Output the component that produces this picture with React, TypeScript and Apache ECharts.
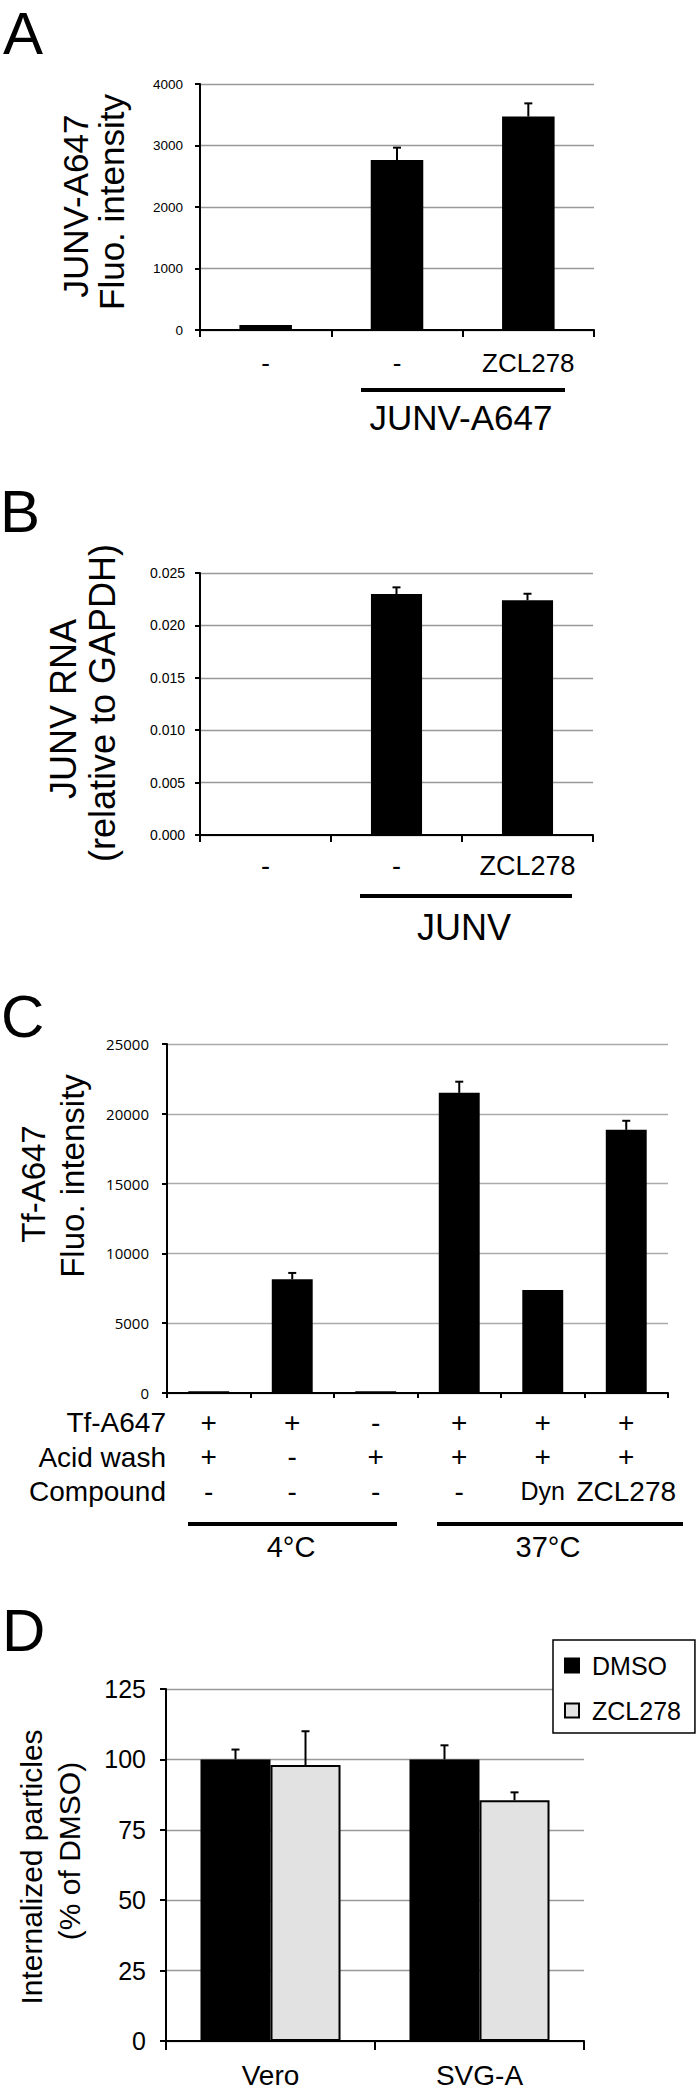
import React, { useEffect, useRef } from 'react';
import * as echarts from 'echarts';

const FONT = '"Liberation Sans", Arial, Helvetica, sans-serif';
const FONT_C = '"Open Sans", "Liberation Sans", sans-serif';

// ---- Panel A: JUNV-A647 binding ----
const aCategories = ['-', '-', 'ZCL278'];
const aValues = [80, 2765, 3470];
const aErrors = [0, 200, 215];
const aMax = 4000;
const aInterval = 1000;

// ---- Panel B: JUNV RNA ----
const bCategories = ['-', '-', 'ZCL278'];
const bValues = [0, 0.023, 0.0224];
const bErrors = [0, 0.00063, 0.00062];
const bMax = 0.025;
const bInterval = 0.005;

// ---- Panel C: Tf-A647 uptake ----
const cTf = ['+', '+', '-', '+', '+', '+'];
const cAcid = ['+', '-', '+', '+', '+', '+'];
const cCompound = ['-', '-', '-', '-', 'Dyn', 'ZCL278'];
const cRowNames = ['Tf-A647', 'Acid wash', 'Compound'];
const cValues = [120, 8150, 120, 21500, 7380, 18850];
const cErrors = [0, 450, 0, 800, 0, 650];
const cMax = 25000;
const cInterval = 5000;
const cGroups = ['4°C', '37°C'];

// ---- Panel D: internalized particles ----
const dCategories = ['Vero', 'SVG-A'];
const dSeriesNames = ['DMSO', 'ZCL278'];
const dDmso = [100, 100];
const dDmsoErr = [3.5, 5];
const dZcl = [98, 85.5];
const dZclErr = [12, 2.8];
const dMax = 125;
const dInterval = 25;

const D_GAP = 0.33; // barCategoryGap fraction in panel D

function errorSeries(gridIdx: number, values: number[], errors: number[], offsetFrac = 0) {
  return {
    type: 'custom',
    xAxisIndex: gridIdx,
    yAxisIndex: gridIdx,
    z: 5,
    silent: true,
    data: values.map((v, i) => [i, v, errors[i]]),
    encode: { x: 0, y: 1 },
    renderItem: (params: any, api: any) => {
      const i = api.value(0);
      const v = api.value(1);
      const e = api.value(2);
      if (!e) return { type: 'group', children: [] };
      const p0 = api.coord([i, v]);
      const p1 = api.coord([i, v + e]);
      const cx = p0[0] + offsetFrac * api.size([1, 0])[0];
      const st = { stroke: '#000', lineWidth: 2 };
      return {
        type: 'group',
        children: [
          { type: 'line', shape: { x1: cx, y1: p0[1], x2: cx, y2: p1[1] }, style: st },
          { type: 'line', shape: { x1: cx - 4, y1: p1[1], x2: cx + 4, y2: p1[1] }, style: st },
        ],
      };
    },
  };
}

function yAxis(gridIndex: number, max: number, interval: number, opts: any) {
  return {
    type: 'value',
    gridIndex,
    min: 0,
    max,
    interval,
    axisLine: { show: true, lineStyle: { color: '#000', width: 2 } },
    axisTick: { show: true, length: opts.tick ?? 5, lineStyle: { color: '#000', width: 2 } },
    splitLine: { show: true, lineStyle: { color: opts.grid ?? '#999', width: 1.3 } },
    axisLabel: {
      color: '#000',
      fontFamily: opts.font ?? FONT,
      fontSize: opts.fontSize,
      margin: opts.margin,
      formatter: opts.formatter ?? ((v: number) => String(v)),
    },
  };
}

function xAxis(gridIndex: number, data: string[], opts: any) {
  return {
    type: 'category',
    gridIndex,
    data,
    axisLine: { show: true, lineStyle: { color: '#000', width: 2 } },
    axisTick: { show: true, length: opts.tick ?? 7, lineStyle: { color: '#000', width: 2 } },
    splitLine: { show: false },
    axisLabel: {
      interval: 0,
      color: '#000',
      fontFamily: FONT,
      fontSize: opts.fontSize,
      lineHeight: opts.lineHeight ?? opts.fontSize,
      margin: opts.margin,
      formatter: opts.formatter,
      rich: opts.rich,
    },
  };
}

function txt(text: string, x: number, y: number, fontSize: number, align = 'center', rotate = false) {
  return {
    type: 'text',
    x,
    y,
    rotation: rotate ? Math.PI / 2 : 0,
    style: {
      text,
      fontSize,
      fontFamily: FONT,
      fill: '#000',
      align,
      textAlign: align,
      verticalAlign: 'middle',
      textVerticalAlign: 'middle',
    },
  };
}

function hline(x1: number, x2: number, y: number) {
  return { type: 'line', shape: { x1, y1: y, x2, y2: y }, style: { stroke: '#000', lineWidth: 4 } };
}

export default function App() {
  const ref = useRef<HTMLDivElement>(null);

  useEffect(() => {
    document.body.style.margin = '0';
    if (!ref.current) return;
    const chart = echarts.init(ref.current, undefined, { renderer: 'svg' });
    const dOff = (1 - D_GAP) / 4;

    const option: any = {
      animation: false,
      backgroundColor: '#fff',
      grid: [
        { left: 200, top: 84, width: 394, height: 246, containLabel: false, outerBoundsMode: 'none' },
        { left: 200, top: 573, width: 393, height: 262, containLabel: false, outerBoundsMode: 'none' },
        { left: 167, top: 1044, width: 501, height: 349, containLabel: false, outerBoundsMode: 'none' },
        { left: 166, top: 1689, width: 418, height: 352, containLabel: false, outerBoundsMode: 'none' },
      ],
      xAxis: [
        xAxis(0, aCategories, { fontSize: 26, margin: 20 }),
        xAxis(1, bCategories, { fontSize: 27, margin: 17 }),
        xAxis(2, cTf.map((_, i) => String(i)), {
          tick: 5,
          fontSize: 28,
          lineHeight: 34.5,
          margin: 12,
          formatter: (_v: string, i: number) =>
            `{r|${cTf[i]}}\n{r|${cAcid[i]}}\n{${cCompound[i] === 'Dyn' ? 's' : 'r'}|${cCompound[i]}}`,
          rich: {
            r: { fontSize: 28, lineHeight: 34.5, fontFamily: FONT, color: '#000' },
            s: { fontSize: 25, lineHeight: 34.5, fontFamily: FONT, color: '#000' },
          },
        }),
        xAxis(3, dCategories, { tick: 9, fontSize: 28, margin: 20 }),
      ],
      yAxis: [
        yAxis(0, aMax, aInterval, { fontSize: 13.5, margin: 17 }),
        yAxis(1, bMax, bInterval, { fontSize: 14, margin: 15, formatter: (v: number) => v.toFixed(3) }),
        yAxis(2, cMax, cInterval, { fontSize: 15, margin: 18, font: FONT_C, grid: '#aaa' }),
        yAxis(3, dMax, dInterval, { fontSize: 25, margin: 20, tick: 6 }),
      ],
      legend: {
        show: true,
        data: dSeriesNames,
        orient: 'vertical',
        left: 553,
        top: 1640,
        selectedMode: false,
        backgroundColor: '#fff',
        borderColor: '#000',
        borderWidth: 1.5,
        borderRadius: 0,
        padding: [13, 14, 10, 11],
        itemGap: 20,
        itemWidth: 14,
        itemHeight: 14,
        icon: 'rect',
        z: 10,
        textStyle: { fontFamily: FONT, fontSize: 25, lineHeight: 25, color: '#000', padding: [0, 0, 0, 8] },
      },
      series: [
        {
          type: 'bar',
          xAxisIndex: 0,
          yAxisIndex: 0,
          data: aValues,
          barCategoryGap: '60%',
          itemStyle: { color: '#000' },
        },
        errorSeries(0, aValues, aErrors),
        {
          type: 'bar',
          xAxisIndex: 1,
          yAxisIndex: 1,
          data: bValues,
          barCategoryGap: '61%',
          itemStyle: { color: '#000' },
        },
        errorSeries(1, bValues, bErrors),
        {
          type: 'bar',
          xAxisIndex: 2,
          yAxisIndex: 2,
          data: cValues,
          barCategoryGap: '51%',
          itemStyle: { color: '#000' },
        },
        errorSeries(2, cValues, cErrors),
        {
          name: dSeriesNames[0],
          type: 'bar',
          xAxisIndex: 3,
          yAxisIndex: 3,
          data: dDmso,
          barGap: '0%',
          barCategoryGap: `${D_GAP * 100}%`,
          itemStyle: { color: '#000', borderColor: '#000', borderWidth: 1.5 },
        },
        {
          name: dSeriesNames[1],
          type: 'bar',
          xAxisIndex: 3,
          yAxisIndex: 3,
          data: dZcl,
          barGap: '0%',
          barCategoryGap: `${D_GAP * 100}%`,
          itemStyle: { color: '#e2e2e2', borderColor: '#000', borderWidth: 2 },
        },
        errorSeries(3, dDmso, dDmsoErr, -dOff),
        errorSeries(3, dZcl, dZclErr, dOff),
      ],
      graphic: [
        // panel letters
        txt('A', 3, 33, 60, 'left'),
        txt('B', 0, 511, 60, 'left'),
        txt('C', 1, 1016, 60, 'left'),
        txt('D', 2, 1630, 60, 'left'),
        // panel A titles
        txt('JUNV-A647', 75, 206, 35, 'center', true),
        txt('Fluo. intensity', 111, 202, 35, 'center', true),
        hline(361, 565, 390),
        txt('JUNV-A647', 461, 417, 35),
        // panel B titles
        txt('JUNV RNA', 63, 709, 36, 'center', true),
        txt('(relative to GAPDH)', 102, 703, 36, 'center', true),
        hline(360, 572, 896),
        txt('JUNV', 464, 927, 36),
        // panel C titles
        txt('Tf-A647', 33, 1184, 33, 'center', true),
        txt('Fluo. intensity', 72, 1176, 33, 'center', true),
        txt(cRowNames[0], 166, 1422, 28, 'right'),
        txt(cRowNames[1], 166, 1457, 28, 'right'),
        txt(cRowNames[2], 166, 1491, 28, 'right'),
        hline(188, 397, 1524),
        hline(437, 683, 1524),
        txt(cGroups[0], 291, 1547, 29),
        txt(cGroups[1], 548, 1547, 29),
        // panel D titles
        txt('Internalized particles', 31, 1867, 30, 'center', true),
        txt('(% of DMSO)', 69, 1851, 30, 'center', true),
      ],
    };

    chart.setOption(option);
    return () => chart.dispose();
  }, []);

  return <div ref={ref} style={{ width: 700, height: 2094 }} />;
}
